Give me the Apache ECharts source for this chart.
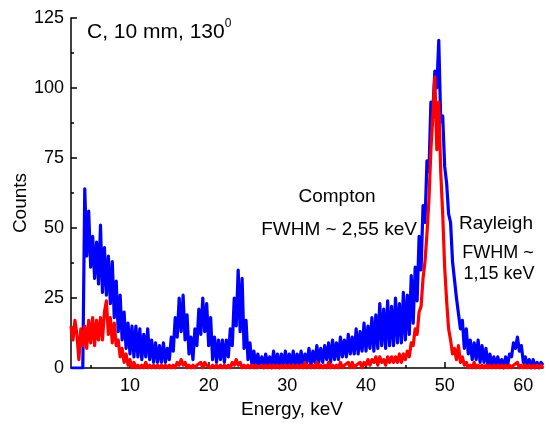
<!DOCTYPE html>
<html>
<head>
<meta charset="utf-8">
<title>C, 10 mm, 130</title>
<script src="https://cdn.jsdelivr.net/npm/echarts@6/dist/echarts.min.js"></script>
<style>
    html, body { margin: 0; padding: 0; background: #fff; }
    #chart { width: 550px; height: 428px; }
</style>
</head>
<body>
<div id="chart"></div>
<script>
// energy grid of both spectra (keV)
var energyStart = 2.5;
var energyStep = 0.25;

// blue spectrum, counts (one row = 1 keV, from 2.5 keV)
var blueCounts = [
    0, 0, 0, 0,
    0, 0, 0, 64,
    40, 56, 36, 47,
    32, 45, 30, 51,
    27, 43, 26, 40,
    23, 38, 18, 31,
    13, 26, 10, 20,
    7, 16, 5, 15,
    4, 15, 4, 14,
    3, 12, 4, 14,
    3, 10, 2, 9,
    2, 8, 2, 9,
    2, 7, 3, 11,
    6, 18, 11, 25,
    13, 26, 10, 19,
    5, 11, 3, 14,
    8, 21, 12, 25,
    13, 23, 8, 18,
    3, 11, 2, 10,
    3, 10, 2, 10,
    4, 14, 8, 25,
    15, 35, 13, 32,
    7, 17, 3, 9,
    1, 6, 0, 5,
    1, 4, 0, 5,
    1, 4, 0, 6,
    1, 5, 0, 5,
    1, 6, 1, 5,
    1, 6, 1, 5,
    1, 6, 1, 5,
    2, 7, 1, 6,
    2, 8, 2, 7,
    2, 8, 3, 9,
    2, 10, 3, 9,
    3, 11, 4, 10,
    4, 12, 5, 11,
    5, 14, 5, 13,
    6, 16, 6, 15,
    7, 18, 6, 19,
    7, 23, 8, 21,
    7, 24, 8, 22,
    8, 25, 9, 23,
    9, 27, 10, 26,
    12, 33, 16, 36,
    24, 47, 35, 58,
    52, 74, 70, 95,
    92, 106, 100, 117,
    88, 90, 72, 66,
    55, 52, 38, 38,
    25, 25, 14, 17,
    7, 14, 5, 10,
    3, 9, 3, 10,
    2, 8, 2, 7,
    1, 5, 1, 4,
    1, 4, 1, 3,
    0, 4, 1, 5,
    4, 9, 7, 11,
    6, 8, 2, 4,
    1, 3, 0, 3,
    0, 2, 0, 2,
    1
];

// red spectrum, counts (same grid)
var redCounts = [
    15, 10, 17, 12,
    3, 14, 8, 15,
    7, 17, 9, 18,
    8, 17, 10, 18,
    10, 20, 24, 12,
    18, 9, 16, 8,
    10, 4, 7, 2,
    5, 1, 3, 0,
    2, 0, 1, 0,
    1, 0, 2, 0,
    1, 0, 1, 0,
    1, 0, 1, 0,
    1, 0, 1, 0,
    1, 0, 2, 1,
    3, 1, 2, 0,
    1, 0, 1, 0,
    1, 1, 2, 0,
    2, 1, 1, 0,
    1, 0, 1, 0,
    1, 0, 1, 0,
    1, 0, 2, 1,
    3, 1, 2, 0,
    1, 0, 1, 0,
    1, 0, 1, 0,
    0, 1, 0, 1,
    0, 1, 0, 1,
    0, 1, 0, 1,
    0, 1, 0, 1,
    0, 1, 0, 1,
    0, 1, 0, 2,
    0, 1, 0, 1,
    0, 2, 0, 1,
    0, 1, 0, 2,
    0, 1, 0, 1,
    0, 2, 0, 1,
    1, 2, 0, 2,
    0, 1, 1, 2,
    0, 2, 1, 3,
    1, 3, 2, 4,
    1, 4, 2, 3,
    1, 4, 2, 4,
    2, 4, 2, 5,
    2, 5, 3, 6,
    4, 9, 8, 14,
    12, 20, 22, 32,
    38, 48, 60, 78,
    90, 104, 78, 95,
    70, 55, 36, 24,
    14, 10, 5, 7,
    3, 8, 2, 4,
    1, 2, 0, 1,
    0, 2, 0, 1,
    0, 1, 0, 1,
    0, 1, 0, 1,
    0, 1, 0, 1,
    0, 1, 0, 1,
    0, 1, 1, 2,
    0, 1, 0, 1,
    0, 1, 0, 1,
    0, 1, 0, 1,
    0
];

var xTickLabels = [10, 20, 30, 40, 50, 60];
var xMinorTicks = [5, 15, 25, 35, 45, 55];

var font = '"Liberation Sans", Arial, sans-serif';

function toPoints(counts) {
    var pts = [];
    for (var i = 0; i < counts.length; i++) {
        pts.push([energyStart + i * energyStep, counts[i]]);
    }
    return pts;
}

var chart = echarts.init(document.getElementById('chart'));
var axisLine = { show: true, onZero: false, lineStyle: { color: '#000', width: 1.5 } };

var option = {
    animation: false,
    backgroundColor: '#fff',
    grid: { left: 71, right: 7, top: 18, bottom: 60, containLabel: false },
    xAxis: [{
        type: 'value',
        min: 2.5,
        max: 62.5,
        position: 'bottom',
        axisLine: axisLine,
        axisTick: { show: true, inside: true, length: 6, customValues: xTickLabels, lineStyle: { color: '#000', width: 1.5 } },
        axisLabel: { customValues: xTickLabels, color: '#000', fontSize: 18, fontFamily: font, margin: 9 },
        splitLine: { show: false }
    }, {
        type: 'value',
        min: 2.5,
        max: 62.5,
        position: 'bottom',
        axisLine: { show: false },
        axisTick: { show: true, inside: true, length: 3, customValues: xMinorTicks, lineStyle: { color: '#000', width: 1.5 } },
        axisLabel: { show: false },
        splitLine: { show: false }
    }],
    yAxis: {
        type: 'value',
        min: 0,
        max: 125,
        interval: 25,
        axisLine: axisLine,
        axisTick: { show: true, inside: true, length: 6, lineStyle: { color: '#000', width: 1.5 } },
        minorTick: { show: true, splitNumber: 2, length: 3, lineStyle: { color: '#000', width: 1.5 } },
        axisLabel: { color: '#000', fontSize: 18, fontFamily: font, margin: 7 },
        splitLine: { show: false }
    },
    series: [{
        name: 'blue',
        type: 'line',
        data: toPoints(blueCounts),
        showSymbol: false,
        lineStyle: { color: '#0000ff', width: 3.2, join: 'round' },
        itemStyle: { color: '#0000ff' }
    }, {
        name: 'red',
        type: 'line',
        data: toPoints(redCounts),
        showSymbol: false,
        lineStyle: { color: '#ff0000', width: 3.2, join: 'round' },
        itemStyle: { color: '#ff0000' }
    }],
    graphic: [
        { type: 'text', left: 87, top: 18, style: {
            text: '{a|C, 10 mm, 130}{s|0}',
            rich: {
                a: { fontSize: 21, fontFamily: font, fill: '#000', lineHeight: 25, verticalAlign: 'bottom' },
                s: { fontSize: 12, fontFamily: font, fill: '#000', lineHeight: 12, verticalAlign: 'top' }
            }
        } },
        { type: 'text', x: 337, y: 197, style: { text: 'Compton', font: '19px ' + font, fill: '#000', align: 'center', verticalAlign: 'middle' } },
        { type: 'text', x: 339, y: 230, style: { text: 'FWHM ~ 2,55 keV', font: '19px ' + font, fill: '#000', align: 'center', verticalAlign: 'middle' } },
        { type: 'text', x: 496, y: 224, style: { text: 'Rayleigh', font: '19px ' + font, fill: '#000', align: 'center', verticalAlign: 'middle' } },
        { type: 'text', x: 498, y: 253, style: { text: 'FWHM ~', font: '18px ' + font, fill: '#000', align: 'center', verticalAlign: 'middle' } },
        { type: 'text', x: 499, y: 274, style: { text: '1,15 keV', font: '18px ' + font, fill: '#000', align: 'center', verticalAlign: 'middle' } },
        { type: 'text', x: 292, y: 410, style: { text: 'Energy, keV', font: '19px ' + font, fill: '#000', align: 'center', verticalAlign: 'middle' } },
        { type: 'text', x: 21, y: 203, rotation: Math.PI / 2, style: { text: 'Counts', font: '19px ' + font, fill: '#000', align: 'center', verticalAlign: 'middle' } }
    ]
};

chart.setOption(option, true);
window.onresize = function () {
    chart.resize();
};
</script>
</body>
</html>
